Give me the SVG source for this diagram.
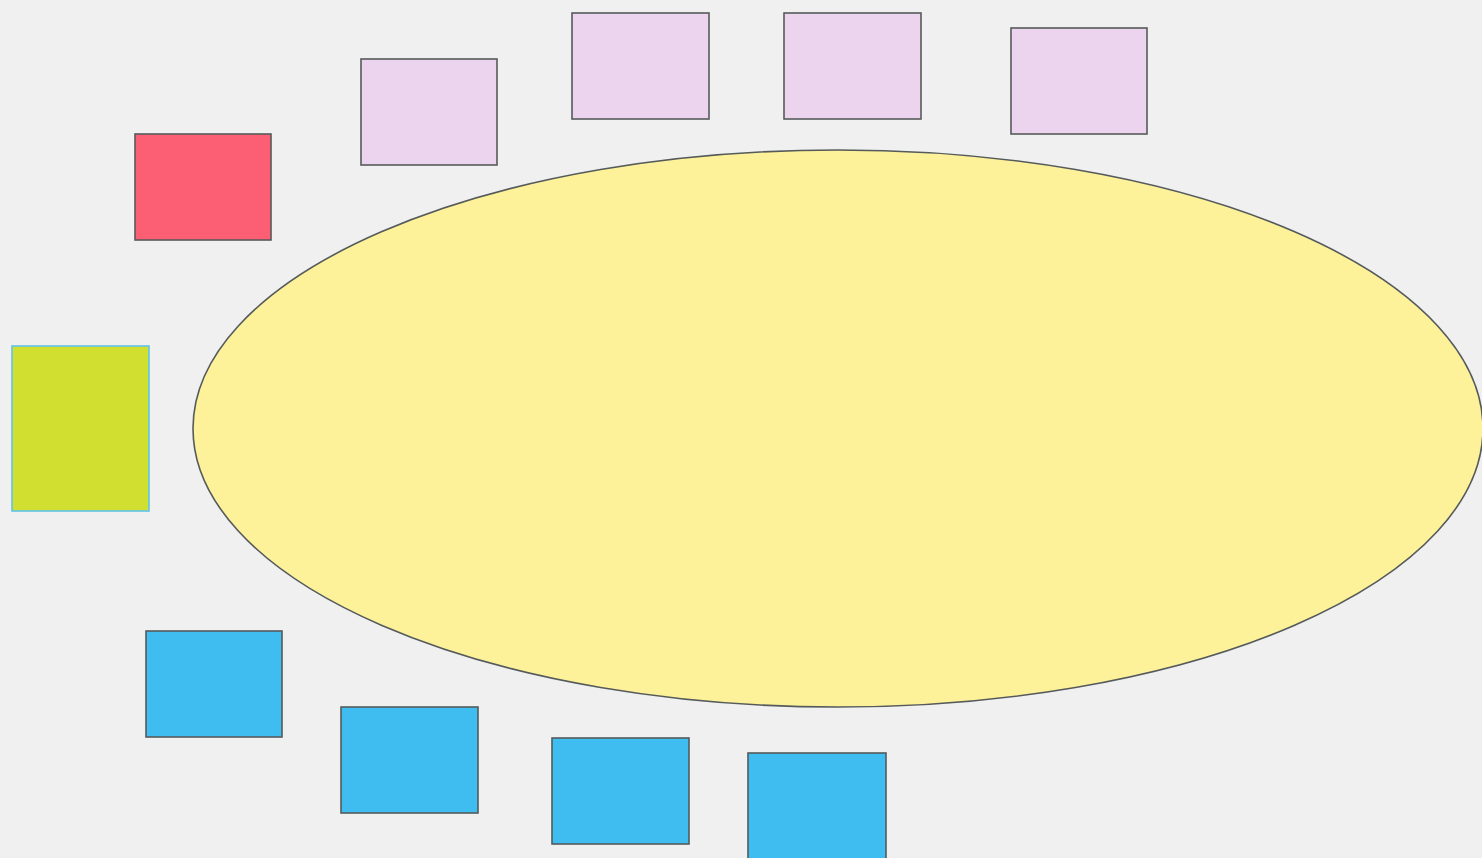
<svg xmlns="http://www.w3.org/2000/svg" width="1482" height="858" viewBox="0 0 1482 858">
<style>
.n{stroke:#555a5a;stroke-width:1.6}
.pink{fill:#ecd4ef}
.blue{fill:#3fbdf1}
</style>
<rect width="1482" height="858" fill="#f0f0f0"/>
<g id="ellipse"><ellipse class="n" cx="838" cy="428.5" rx="645" ry="278.5" fill="#fdf19a"/></g>
<g id="red"><rect class="n" x="135" y="134" width="136" height="106" fill="#fc5f73"/></g>
<g id="green"><rect x="12" y="346" width="137" height="165" fill="#d1df31" stroke="#5fc3ea" stroke-width="1.6"/></g>
<g id="pink1"><rect class="n pink" x="361" y="59" width="136" height="106"/></g>
<g id="pink2"><rect class="n pink" x="572" y="13" width="137" height="106"/></g>
<g id="pink3"><rect class="n pink" x="784" y="13" width="137" height="106"/></g>
<g id="pink4"><rect class="n pink" x="1011" y="28" width="136" height="106"/></g>
<g id="blue1"><rect class="n blue" x="146" y="631" width="136" height="106"/></g>
<g id="blue2"><rect class="n blue" x="341" y="707" width="137" height="106"/></g>
<g id="blue3"><rect class="n blue" x="552" y="738" width="137" height="106"/></g>
<g id="blue4"><rect class="n blue" x="748" y="753" width="138" height="110"/></g>
<g id="connectors"></g>
</svg>
